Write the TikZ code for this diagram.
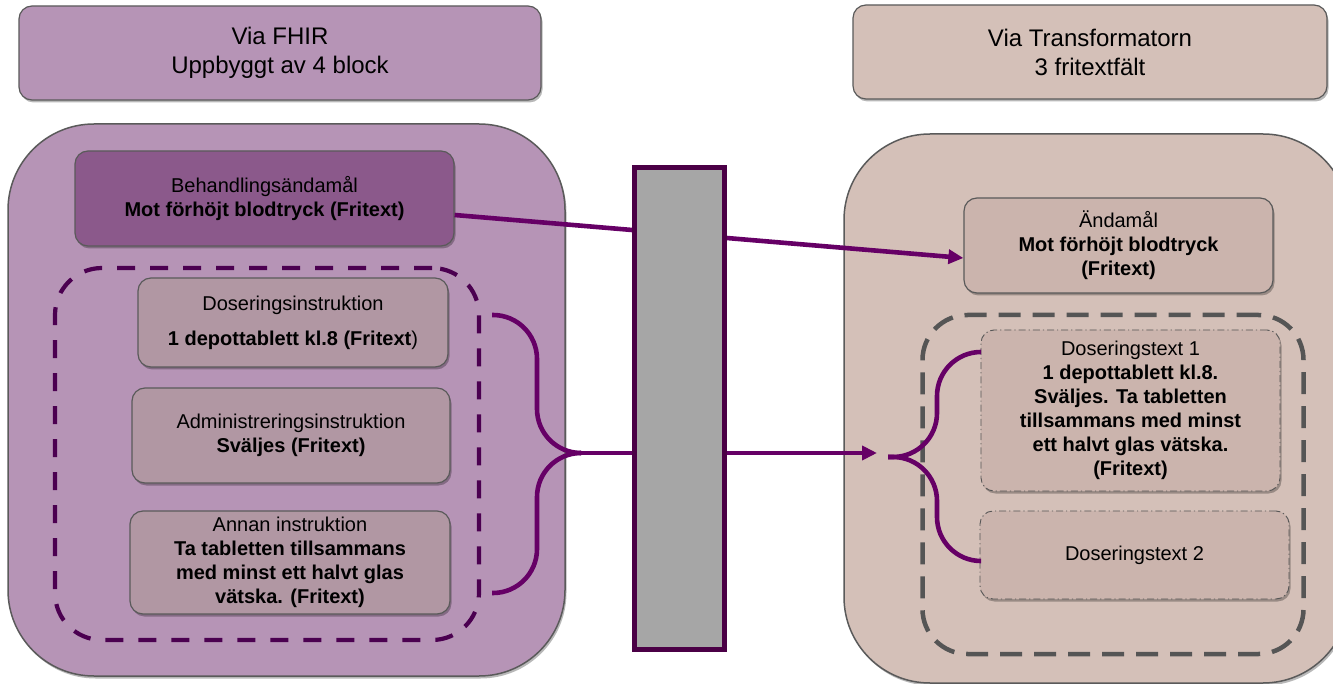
\documentclass[tikz,border=0pt]{standalone}
\usepackage{fontspec}
\setmainfont{Liberation Sans}
\usetikzlibrary{arrows.meta,shadows}
\definecolor{lpurple}{RGB}{182,148,182}
\definecolor{dpurple}{RGB}{139,89,139}
\definecolor{lbox}{RGB}{177,151,163}
\definecolor{rbig}{RGB}{212,192,184}
\definecolor{rbox}{RGB}{203,180,173}
\definecolor{edge}{RGB}{90,90,90}
\definecolor{conn}{RGB}{102,0,102}
\definecolor{barline}{RGB}{75,0,70}
\definecolor{barfill}{RGB}{166,166,166}
\definecolor{dashgrey}{RGB}{85,85,85}
\definecolor{dashpurple}{RGB}{75,0,80}
\tikzset{
  shd/.style={drop shadow={shadow xshift=1.5pt,shadow yshift=-2.5pt,opacity=0.28,fill=black}},
  box/.style={rectangle, draw=edge, line width=1.2pt, inner sep=0pt, align=center,
    rounded corners=13pt, font=\fontsize{20}{24}\selectfont, shd},
  header/.style={box, font=\fontsize{24}{29}\selectfont},
  bigbox/.style={rectangle, draw=edge, line width=1.5pt, rounded corners=86pt, inner sep=0pt, shd},
  groupP/.style={rectangle, draw=dashpurple, line width=4.2pt, dash pattern=on 18pt off 15pt,
    rounded corners=47pt, inner sep=0pt},
  groupG/.style={rectangle, draw=dashgrey, line width=4.5pt, dash pattern=on 22pt off 12pt,
    rounded corners=45pt, inner sep=0pt},
  dotbox/.style={box, draw=dashgrey, line width=0.9pt,
    dash pattern=on 7pt off 3pt on 1.2pt off 3pt},
  conline/.style={draw=conn, line width=4.6pt},
  brace/.style={draw=conn, line width=4.6pt, rounded corners=44pt},
  tip/.style={-{Triangle[length=15pt,width=14pt]}},
  barbox/.style={rectangle, draw=barline, line width=5pt, fill=barfill, inner sep=0pt}
}
\begin{document}
\begin{tikzpicture}[x=1pt,y=-1pt]
\clip (0,0) rectangle (1333,684);
\fill[white] (0,0) rectangle (1333,684);

% big panels
\node[bigbox, fill=lpurple, minimum width=557pt, minimum height=552pt] (lbig) at (286.5,400) {};
\node[bigbox, fill=rbig, minimum width=505pt, minimum height=549pt] (rbig) at (1096.5,408.5) {};

% headers
\node[header, fill=lpurple, minimum width=522pt, minimum height=94pt] (lhead) at (280,53)
  {Via FHIR\\Uppbyggt av 4 block};
\node[header, fill=rbig, minimum width=474pt, minimum height=94pt] (rhead) at (1090,52)
  {Via Transformatorn\\3 fritextfält};

% left side
\node[box, fill=dpurple, minimum width=379pt, minimum height=95pt] (beh) at (264.5,198.5)
  {Behandlingsändamål\\\textbf{Mot förhöjt blodtryck (Fritext)}};
\node[groupP, minimum width=424pt, minimum height=372pt] (lgrp) at (267,454) {};
\node[box, fill=lbox, minimum width=310pt, minimum height=89pt] (dosi) at (293,322.5)
  {Doseringsinstruktion\\[11pt]\textbf{1 depottablett kl.8 (Fritext})};
\node[box, fill=lbox, minimum width=318pt, minimum height=95pt] (admi) at (291,435.5)
  {Administreringsinstruktion\\\textbf{Sväljes (Fritext)}};
\node[box, fill=lbox, minimum width=320pt, minimum height=103pt] (anna) at (290,562.5)
  {Annan instruktion\\\textbf{Ta tabletten tillsammans}\\\textbf{med minst ett halvt glas}\\\textbf{vätska. (Fritext)}};

% right side
\node[box, fill=rbox, minimum width=309pt, minimum height=95pt] (anda) at (1118.5,245.5)
  {Ändamål\\\textbf{Mot förhöjt blodtryck}\\\textbf{(Fritext)}};
\node[groupG, minimum width=381pt, minimum height=339pt] (rgrp) at (1113,484.5) {};
\node[dotbox, fill=rbox, minimum width=299pt, minimum height=161pt] (dos1) at (1130.5,410.5)
  {Doseringstext 1\\\textbf{1 depottablett kl.8.}\\\textbf{Sväljes. Ta tabletten}\\\textbf{tillsammans med minst}\\\textbf{ett halvt glas vätska.}\\\textbf{(Fritext)}};
\node[dotbox, fill=rbox, minimum width=309pt, minimum height=88pt] (dos2) at (1134.5,555)
  {Doseringstext 2};

% brace coordinates
\coordinate (lbTop) at ([xshift=11pt,yshift=139pt]lgrp.east);
\coordinate (lbBot) at ([xshift=11pt,yshift=-139pt]lgrp.east);
\coordinate (lbTip) at (580,453);
\coordinate (rbIn) at (877,453);
\coordinate (rbTip) at (888,457);

% connectors
\draw[conline, tip] ([yshift=-16.5pt]beh.east) -- ([yshift=-12.5pt]anda.west);
\draw[brace] (lbTop) -| (537,453) -- (lbTip);
\draw[brace] (lbBot) -| (537,453) -- (lbTip);
\draw[conline, tip] (lbTip) -- (rbIn);
\draw[brace] ([yshift=58.5pt]dos1.west) -| (937,457) -- (rbTip);
\draw[brace] ([yshift=-6pt]dos2.west) -| (937,457) -- (rbTip);

% transformer bar
\node[barbox, minimum width=90pt, minimum height=482pt] (bar) at (679.5,408.5) {};
\end{tikzpicture}
\end{document}
